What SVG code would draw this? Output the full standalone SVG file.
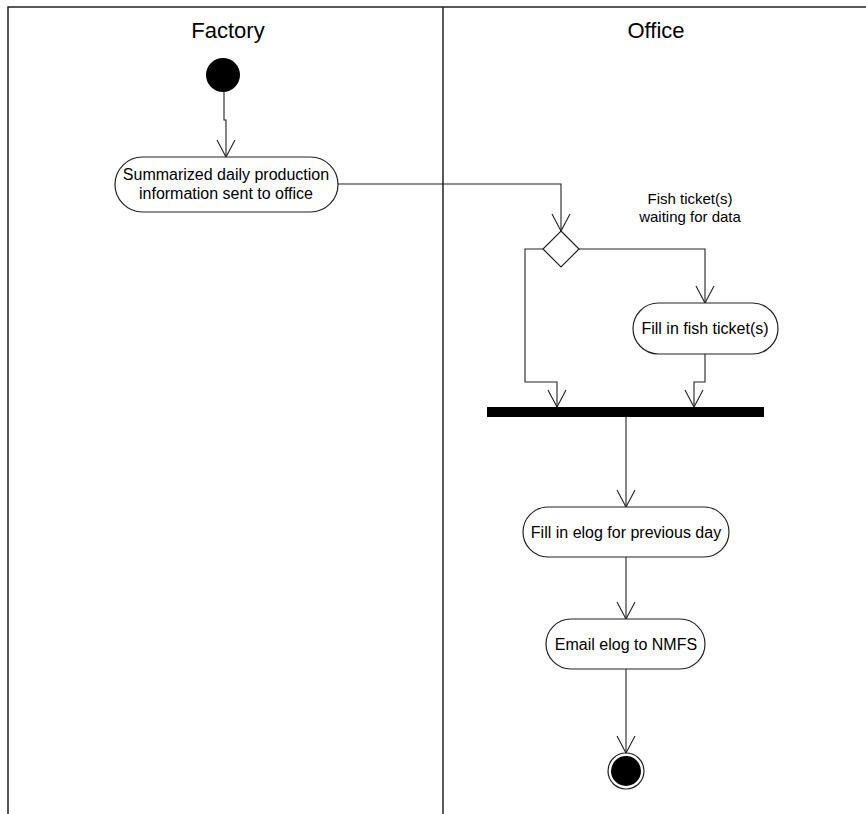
<svg xmlns="http://www.w3.org/2000/svg" width="866" height="814" viewBox="0 0 866 814">
<style>
.frame{stroke:#222;stroke-width:1.5;fill:none}
.lane{font-family:"Liberation Sans",Arial,sans-serif;font-size:22px;fill:#000;text-anchor:middle}
.act{fill:#fff;stroke:#222;stroke-width:1.2}
.t{font-family:"Liberation Sans",Arial,sans-serif;font-size:16px;fill:#000;text-anchor:middle}
.lbl{font-family:"Liberation Sans",Arial,sans-serif;font-size:15px;fill:#000;text-anchor:middle}
.c{fill:none;stroke:#222;stroke-width:1.1;marker-end:url(#arr)}
</style>
<defs>
<marker id="arr" markerUnits="userSpaceOnUse" markerWidth="20" markerHeight="20" viewBox="-1 -1 20 20" refX="17" refY="9" orient="auto">
<path d="M0,0 L17,9 L0,18" fill="none" stroke="#222" stroke-width="1.1"/>
</marker>
</defs>
<rect width="866" height="814" fill="#fff"/>
<g id="swimlanes">
<path class="frame" d="M8,814 V7 H866 M443,7 V814"/>
<text class="lane" x="228" y="38">Factory</text>
<text class="lane" x="656" y="38">Office</text>
</g>
<g id="connectors">
<path class="c" d="M224,92 V120 H226 V157"/>
<path class="c" d="M338,184 H561 V231"/>
<path class="c" d="M543,249 H525 V382 H557 V407"/>
<path class="c" d="M579,249 H705 V303"/>
<path class="c" d="M705,354 V382 H694 V407"/>
<path class="c" d="M626,417 V507"/>
<path class="c" d="M626,557 V619"/>
<path class="c" d="M626,669 V753"/>
</g>
<g id="start">
<circle cx="223" cy="75" r="17" fill="#000"/>
</g>
<g id="act-summarized">
<rect class="act" x="115" y="157" width="223" height="55" rx="27.5"/>
<text class="t" x="226" y="180">Summarized daily production</text>
<text class="t" x="226" y="199">information sent to office</text>
</g>
<g id="decision">
<polygon class="act" points="561,231 579,249 561,267 543,249"/>
<text class="lbl" x="690" y="204">Fish ticket(s)</text>
<text class="lbl" x="690" y="222">waiting for data</text>
</g>
<g id="act-fish">
<rect class="act" x="633" y="303" width="145" height="51" rx="25.5"/>
<text class="t" x="705" y="334">Fill in fish ticket(s)</text>
</g>
<g id="join">
<rect x="487" y="407" width="277" height="10" fill="#000"/>
</g>
<g id="act-elog">
<rect class="act" x="523" y="507" width="206" height="50" rx="25"/>
<text class="t" x="626" y="538">Fill in elog for previous day</text>
</g>
<g id="act-email">
<rect class="act" x="546" y="619" width="159" height="50" rx="25"/>
<text class="t" x="626" y="650">Email elog to NMFS</text>
</g>
<g id="end">
<circle cx="626" cy="771" r="18" fill="#fff" stroke="#222" stroke-width="1.2"/>
<circle cx="626" cy="771" r="15" fill="#000"/>
</g>
</svg>
